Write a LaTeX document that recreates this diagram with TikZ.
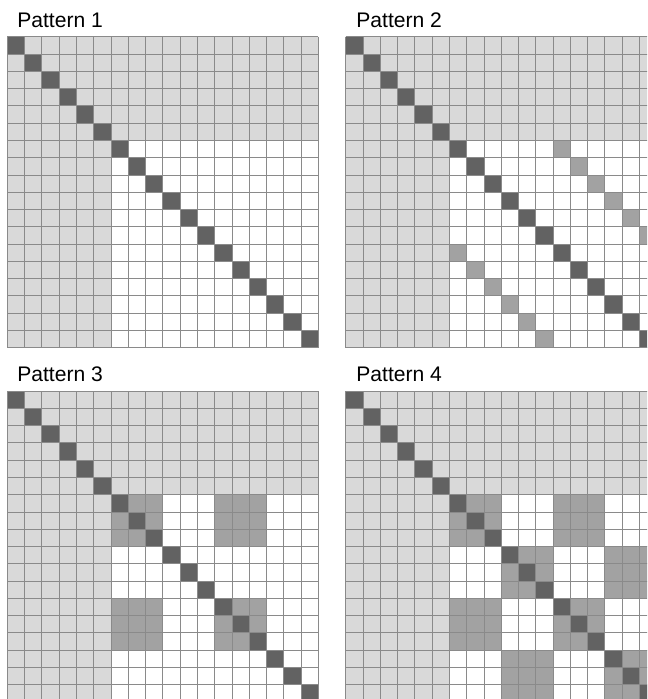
\documentclass[tikz,border=0pt]{standalone}
\usepackage{fontspec}
\setmainfont{Liberation Sans}
\usetikzlibrary{positioning}

\definecolor{lightcell}{HTML}{D9D9D9}
\definecolor{diagcell}{HTML}{626262}
\definecolor{offcell}{HTML}{A2A2A2}
\definecolor{gridline}{HTML}{8A8A8A}

\begin{document}
\begin{tikzpicture}[
    x=0.02cm, y=-0.02cm,
    panel/.style={shift={#1}, x=0.3456cm, y=-0.3456cm},
    lbl/.style={anchor=base west, inner sep=0pt, font=\fontsize{12pt}{14pt}\selectfont},
    gridpen/.style={draw=gridline, line width=0.45pt},
]
  \useasboundingbox (0,0) rectangle (647,699);
  \clip (0,0) rectangle (647,699);

  \node[lbl] (lab1) at (17,28) {Pattern 1};
  \node[lbl] (lab2) at (356,28) {Pattern 2};
  \node[lbl] (lab3) at (17,381) {Pattern 3};
  \node[lbl] (lab4) at (356,381) {Pattern 4};

  % fixed part of every matrix
  \foreach \px/\py in {7.3/36.7, 345.7/36.7, 7.3/391, 345.7/391} {
    \begin{scope}[panel={(\px,\py)}]
      \fill[lightcell] (0,0) rectangle (18,6);
      \fill[lightcell] (0,6) rectangle (6,18);
    \end{scope}
  }

  % pattern 2: shifted bands
  \begin{scope}[panel={(345.7,36.7)}]
    \foreach \k in {6,...,11} {
      \fill[offcell] (\k+6,\k) rectangle ++(1,1);
      \fill[offcell] (\k,\k+6) rectangle ++(1,1);
    }
  \end{scope}

  % pattern 3: four 3x3 blocks
  \begin{scope}[panel={(7.3,391)}]
    \foreach \a/\b in {6/6, 12/6, 6/12, 12/12}
      \fill[offcell] (\a,\b) rectangle ++(3,3);
  \end{scope}

  % pattern 4: checkerboard of 3x3 blocks
  \begin{scope}[panel={(345.7,391)}]
    \foreach \a/\b in {6/6, 12/6, 9/9, 15/9, 6/12, 12/12, 9/15, 15/15}
      \fill[offcell] (\a,\b) rectangle ++(3,3);
  \end{scope}

  % diagonal and cell lines
  \foreach \px/\py in {7.3/36.7, 345.7/36.7, 7.3/391, 345.7/391} {
    \begin{scope}[panel={(\px,\py)}]
      \foreach \k in {0,...,17}
        \fill[diagcell] (\k,\k) rectangle ++(1,1);
      \foreach \k in {0,...,18} {
        \draw[gridpen] (\k,0) -- (\k,18);
        \draw[gridpen] (0,\k) -- (18,\k);
      }
    \end{scope}
  }
\end{tikzpicture}
\end{document}
